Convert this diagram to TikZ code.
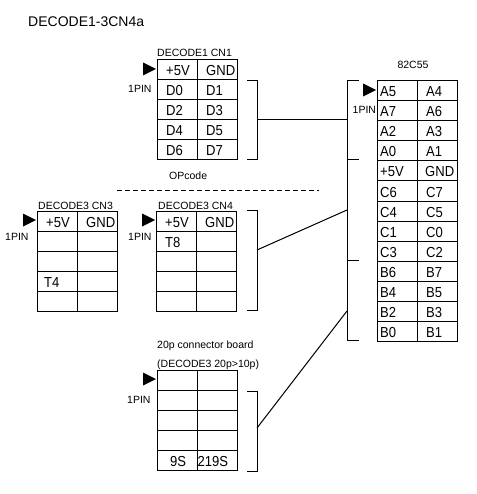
\documentclass[tikz,border=0pt]{standalone}
\usepackage{fontspec}
\setmainfont{Liberation Sans}
\newfontfamily\cellfont[FakeStretch=0.9]{Liberation Sans}
\tikzset{
  cell/.style={draw, line width=1pt, minimum width=40pt, minimum height=20pt, inner sep=0pt, outer sep=0pt, anchor=north west},
  ctxt/.style={anchor=base west, inner sep=0pt, font=\cellfont\fontsize{14.5}{16}\selectfont},
  lbl/.style={anchor=base west, inner sep=0pt, font=\fontsize{10.5}{12}\selectfont},
  ttl/.style={anchor=base west, inner sep=0pt, font=\fontsize{14}{16}\selectfont},
  wire/.style={line width=1pt, line cap=rect},
  dashline/.style={line width=1pt, dash pattern=on 5pt off 3pt},
  pinmark/.style={fill=black},
}
\newcommand{\mkgrid}[4]{%
  \foreach \r in {1,...,#4} {
    \foreach \c in {1,2} {
      \node[cell] (#1-\r-\c) at ({#2+(\c-1)*40}, {#3+(\r-1)*20}) {};
    }
  }
}
\newcommand{\ct}[3][9]{\node[ctxt] (t-#2) at ([xshift=#1pt,yshift=4pt]#2.south west) {#3};}
\newcommand{\pinarrow}[1]{%
  \fill[pinmark] ([xshift=-1pt,yshift=1pt]#1.west) -- ([xshift=-14pt,yshift=7.5pt]#1.west) -- ([xshift=-14pt,yshift=-5.5pt]#1.west) -- cycle;}
\begin{document}
\begin{tikzpicture}[x=1pt,y=-1pt]
\fill[white] (0,0) rectangle (476,494);
\useasboundingbox (0,0) rectangle (476,494);

\node[ttl] (title) at (28,26.5) {DECODE1-3CN4a};

% DECODE1 CN1
\node[lbl] (cn1t) at (157,57) {DECODE1 CN1};
\mkgrid{cn1}{157}{60}{5}
\ct{cn1-1-1}{+5V}\ct{cn1-1-2}{GND}
\ct{cn1-2-1}{D0}\ct{cn1-2-2}{D1}
\ct{cn1-3-1}{D2}\ct{cn1-3-2}{D3}
\ct{cn1-4-1}{D4}\ct{cn1-4-2}{D5}
\ct{cn1-5-1}{D6}\ct{cn1-5-2}{D7}
\pinarrow{cn1-1-1}
\node[lbl] (cn1p) at (128,93) {1PIN};
\node[lbl] (opc) at (169,179) {OPcode};

% dashed separator
\coordinate (d1) at (117,190);
\coordinate (d2) at (319,190);
\draw[dashline] (d1) -- (d2);

% DECODE3 CN3
\node[lbl] (cn3t) at (38,209) {DECODE3 CN3};
\mkgrid{cn3}{37}{211}{5}
\ct{cn3-1-1}{+5V}\ct{cn3-1-2}{GND}
\ct[7]{cn3-4-1}{T4}
\pinarrow{cn3-1-1}
\node[lbl] (cn3p) at (5,240) {1PIN};

% DECODE3 CN4
\node[lbl] (cn4t) at (158,209) {DECODE3 CN4};
\mkgrid{cn4}{156}{211}{5}
\ct{cn4-1-1}{+5V}\ct{cn4-1-2}{GND}
\ct[9]{cn4-2-1}{T8}
\pinarrow{cn4-1-1}
\node[lbl] (cn4p) at (128,240) {1PIN};

% 20p connector board
\node[lbl] (bdt1) at (157,348) {20p connector board};
\node[lbl] (bdt2) at (157,367) {(DECODE3 20p>10p)};
\mkgrid{bd}{157}{370}{5}
\ct[13]{bd-5-1}{9S}\ct[0.5]{bd-5-2}{219S}
\pinarrow{bd-1-1}
\node[lbl] (bdp) at (127,403) {1PIN};

% 82C55
\node[lbl, anchor=base] (ppit) at (413,69) {82C55};
\mkgrid{ppi}{377}{81}{13}
\ct[3]{ppi-1-1}{A5}\ct{ppi-1-2}{A4}
\ct[3]{ppi-2-1}{A7}\ct{ppi-2-2}{A6}
\ct[3]{ppi-3-1}{A2}\ct{ppi-3-2}{A3}
\ct[3]{ppi-4-1}{A0}\ct{ppi-4-2}{A1}
\ct[3]{ppi-5-1}{+5V}\ct[8]{ppi-5-2}{GND}
\ct[3]{ppi-6-1}{C6}\ct{ppi-6-2}{C7}
\ct[3]{ppi-7-1}{C4}\ct{ppi-7-2}{C5}
\ct[3]{ppi-8-1}{C1}\ct{ppi-8-2}{C0}
\ct[3]{ppi-9-1}{C3}\ct{ppi-9-2}{C2}
\ct[3]{ppi-10-1}{B6}\ct{ppi-10-2}{B7}
\ct[3]{ppi-11-1}{B4}\ct{ppi-11-2}{B5}
\ct[3]{ppi-12-1}{B2}\ct{ppi-12-2}{B3}
\ct[3]{ppi-13-1}{B0}\ct{ppi-13-2}{B1}
\pinarrow{ppi-1-1}
\node[lbl] (ppip) at (352.5,113.5) {1PIN};

% brackets
\coordinate (b1a) at (247,81);  \coordinate (b1b) at (257,81);
\coordinate (b1c) at (257,160); \coordinate (b1d) at (247,160);
\coordinate (b1m) at (257,120);
\draw[wire] (b1a) -- (b1b) -- (b1c) -- (b1d);

\coordinate (b4a) at (247,210); \coordinate (b4b) at (257,210);
\coordinate (b4c) at (257,310); \coordinate (b4d) at (247,310);
\coordinate (b4m) at (257,250);
\draw[wire] (b4a) -- (b4b) -- (b4c) -- (b4d);

\coordinate (b5a) at (247,391); \coordinate (b5b) at (257,391);
\coordinate (b5c) at (257,471); \coordinate (b5d) at (247,471);
\coordinate (b5m) at (257,428);
\draw[wire] (b5a) -- (b5b) -- (b5c) -- (b5d);

\coordinate (p1) at (358,81);  \coordinate (p1v) at (347,81);
\coordinate (p2) at (358,160); \coordinate (p2v) at (347,160);
\coordinate (p3) at (358,260); \coordinate (p3v) at (347,260);
\coordinate (p4) at (358,340); \coordinate (p4v) at (347,340);
\coordinate (pm1) at (347,120);
\coordinate (pm2) at (347,210);
\coordinate (pm3) at (347,311);
\draw[wire] (p1) -- (p1v) -- (p4v) -- (p4);
\draw[wire] (p2v) -- (p2);
\draw[wire] (p3v) -- (p3);

% connectors
\draw[line width=1pt] (b1m) -- (pm1);
\draw[line width=1pt] (b4m) -- (pm2);
\draw[line width=1pt] (b5m) -- (pm3);
\end{tikzpicture}
\end{document}
